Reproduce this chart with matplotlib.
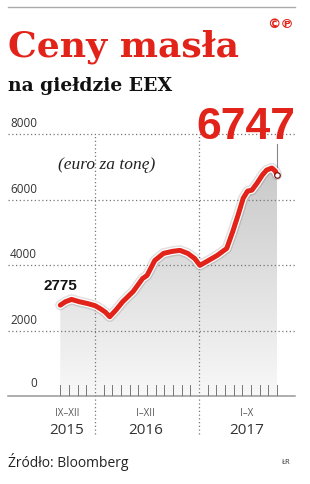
import matplotlib
matplotlib.use("Agg")
import matplotlib.pyplot as plt
import matplotlib.patheffects as pe
import numpy as np
from matplotlib.colors import LinearSegmentedColormap

# ---- data (month index: 0 = Sept 2015, 4 = Jan 2016, 16 = Jan 2017) ----
months = [0, 0.6, 1.3, 2.2, 3.2, 4.0, 4.6, 5.2, 5.7, 6.4, 7.2, 8.4, 9.5, 10.0, 10.9,
          11.9, 12.9, 13.8, 14.7, 15.5, 16.1, 16.9, 18.1, 19.2, 19.9, 20.5, 21.1,
          21.6, 22.1, 22.7, 23.3, 23.8, 24.4, 24.8, 25.0]
prices = [2775, 2880, 2950, 2880, 2820, 2760, 2670, 2560, 2420, 2620, 2880, 3190, 3590,
          3680, 4140, 4356, 4417, 4448, 4356, 4200, 3990, 4110, 4294, 4509, 5031, 5521,
          6043, 6258, 6288, 6503, 6748, 6902, 6963, 6871, 6747]
y_ticks = [0, 2000, 4000, 6000, 8000]
period_labels = ["IX\u2013XII", "I\u2013XII", "I\u2013X"]
year_labels = ["2015", "2016", "2017"]
year_pos = [0.74, 9.8, 21.5]
year_bounds = [4, 16]
month_ticks = [m for m in range(26) if m not in year_bounds]
first_val, last_val = 2775, 6747

RED = "#e2231a"
fig = plt.figure(figsize=(3.1, 4.85), dpi=100)
ax = fig.add_axes([8 / 310, 88 / 485, 287 / 310, 275 / 485])
ax.set_xlim(-6.03, 27.07)
ax.set_ylim(0, 8400)
ax.axis("off")

# gradient fill under curve
poly = ax.fill_between(months, prices, 0, color="none", lw=0)
cmap = LinearSegmentedColormap.from_list("g", ["#f8f8f8", "#c9c9c9"])
grad = np.linspace(0, 1, 256).reshape(-1, 1)
im = ax.imshow(grad, extent=[months[0], months[-1], 0, 7000], origin="lower",
               cmap=cmap, aspect="auto", zorder=1)
im.set_clip_path(poly.get_paths()[0], transform=ax.transData)

# horizontal dotted grid
for v in y_ticks[1:]:
    ax.plot([-6.03, 27.07], [v, v], ls=(0, (1, 2)), color="#777", lw=0.9, zorder=2)
    ax.text(-2.69, v + 150, str(v), ha="right", va="bottom", fontsize=8.5,
            family="Open Sans", color="#333")
ax.text(-2.69, 200, "0", ha="right", va="bottom", fontsize=8.5,
        family="Open Sans", color="#333")

# baseline and month ticks
ax.plot([-6.03, 27.07], [0, 0], color="#999", lw=1.1, zorder=3, clip_on=False)
for m in month_ticks:
    ax.plot([m, m], [0, 340], color="#777", lw=0.7, zorder=3)

# vertical dotted year separators
for b in year_bounds:
    ax.plot([b, b], [-1160, 8000], ls=(0, (1, 2)), color="#777", lw=0.9,
            zorder=2, clip_on=False)

# year labels
for p, pl, yl in zip(year_pos, period_labels, year_labels):
    ax.text(p, -500, pl, ha="center", va="center", fontsize=7, family="Open Sans",
            color="#555", clip_on=False)
    ax.text(p, -1020, yl, ha="center", va="center", fontsize=11, family="Open Sans",
            color="#333", clip_on=False)

# price line
ax.plot(months, prices, color=RED, lw=3.6, zorder=5, solid_capstyle="round",
        solid_joinstyle="round",
        path_effects=[pe.Stroke(linewidth=7.5, foreground="#000000", alpha=0.12),
                      pe.Stroke(linewidth=5.4, foreground="white"), pe.Normal()])
ax.plot([months[-1], months[-1]], [last_val, 7695], color="#888", lw=0.8, zorder=4,
        clip_on=False)
ax.plot(months[-1], last_val, "o", ms=4, mfc="white", mec="#7a1010", mew=0.9, zorder=6)

ax.text(0, 3267, f"{first_val}", ha="center", va="baseline", fontsize=11,
        fontweight="bold", family="Liberation Sans", color="#111")
ax.text(21.45, 7695 + 180, f"{last_val}", ha="center", va="baseline", fontsize=32,
        fontweight="bold", family="Liberation Sans", color=RED, clip_on=False)
ax.text(5.39, 7084, "(euro za tonę)", ha="center", va="center", fontsize=12.5,
        style="italic", family="Liberation Serif", color="#222")

# titles and decorations
fig.add_artist(plt.Line2D([8 / 310, 295 / 310], [1 - 7.5 / 485] * 2, color="#aaa", lw=1))
fig.text(8 / 310, 1 - 57 / 485, "Ceny masła", fontsize=26, fontweight="bold",
         family="DejaVu Serif", color=RED, va="baseline")
fig.text(8 / 310, 1 - 90.7 / 485, "na giełdzie EEX", fontsize=13.5, fontweight="bold",
         family="DejaVu Serif", color="#111", va="baseline")
fig.text(294 / 310, 1 - 24 / 485, "\u00a9\u2117", fontsize=9.5, fontweight="bold",
         family="DejaVu Sans", color=RED, ha="right", va="center")
fig.text(8 / 310, 1 - 462 / 485, "Źródło: Bloomberg", fontsize=10,
         family="Open Sans", color="#222", va="center")
fig.text(291 / 310, 1 - 463 / 485, "ŁR", fontsize=5.5, family="Open Sans",
         color="#333", ha="right", va="center")

fig.savefig("out.png", dpi=100)
